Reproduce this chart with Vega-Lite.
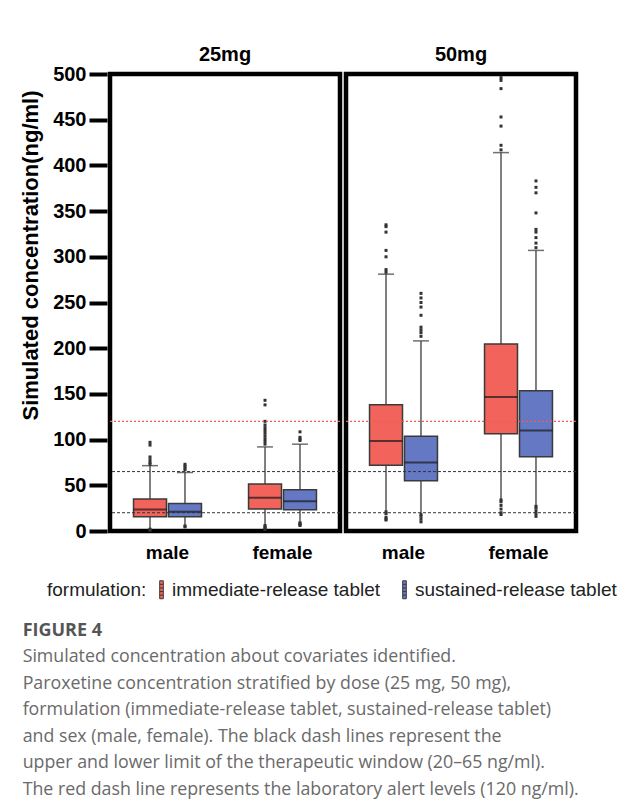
{
  "$schema": "https://vega.github.io/schema/vega-lite/v6.json",
  "background": "white",
  "padding": {"left": 19, "top": 45, "right": 5, "bottom": 5},
  "data": {"values": [
    {"kind": "box", "dose": "25mg", "sex": "male", "formulation": "immediate-release tablet", "lower": 3, "q1": 15.7, "median": 23.5, "q3": 35, "upper": 71.5},
    {"kind": "box", "dose": "25mg", "sex": "male", "formulation": "sustained-release tablet", "lower": 6.5, "q1": 15.7, "median": 21, "q3": 30, "upper": 64},
    {"kind": "box", "dose": "25mg", "sex": "female", "formulation": "immediate-release tablet", "lower": 7, "q1": 24, "median": 36.5, "q3": 51.4, "upper": 92},
    {"kind": "box", "dose": "25mg", "sex": "female", "formulation": "sustained-release tablet", "lower": 10, "q1": 23.3, "median": 32.5, "q3": 45, "upper": 95},
    {"kind": "box", "dose": "50mg", "sex": "male", "formulation": "immediate-release tablet", "lower": 22, "q1": 71.8, "median": 98.5, "q3": 138, "upper": 281},
    {"kind": "box", "dose": "50mg", "sex": "male", "formulation": "sustained-release tablet", "lower": 19, "q1": 55, "median": 75, "q3": 103.6, "upper": 208},
    {"kind": "box", "dose": "50mg", "sex": "female", "formulation": "immediate-release tablet", "lower": 35, "q1": 106.5, "median": 146.5, "q3": 204.6, "upper": 414},
    {"kind": "box", "dose": "50mg", "sex": "female", "formulation": "sustained-release tablet", "lower": 28.5, "q1": 81.3, "median": 110, "q3": 153.5, "upper": 307},

    {"kind": "out", "dose": "25mg", "sex": "male", "formulation": "immediate-release tablet", "value": 97},
    {"kind": "out", "dose": "25mg", "sex": "male", "formulation": "immediate-release tablet", "value": 94},
    {"kind": "out", "dose": "25mg", "sex": "male", "formulation": "immediate-release tablet", "value": 81},
    {"kind": "out", "dose": "25mg", "sex": "male", "formulation": "immediate-release tablet", "value": 78},
    {"kind": "out", "dose": "25mg", "sex": "male", "formulation": "immediate-release tablet", "value": 75},
    {"kind": "out", "dose": "25mg", "sex": "male", "formulation": "immediate-release tablet", "value": 73},
    {"kind": "out", "dose": "25mg", "sex": "male", "formulation": "immediate-release tablet", "value": 2},
    {"kind": "out", "dose": "25mg", "sex": "male", "formulation": "immediate-release tablet", "value": 1},
    {"kind": "out", "dose": "25mg", "sex": "male", "formulation": "sustained-release tablet", "value": 73},
    {"kind": "out", "dose": "25mg", "sex": "male", "formulation": "sustained-release tablet", "value": 71},
    {"kind": "out", "dose": "25mg", "sex": "male", "formulation": "sustained-release tablet", "value": 69},
    {"kind": "out", "dose": "25mg", "sex": "male", "formulation": "sustained-release tablet", "value": 67},
    {"kind": "out", "dose": "25mg", "sex": "male", "formulation": "sustained-release tablet", "value": 5.5},
    {"kind": "out", "dose": "25mg", "sex": "male", "formulation": "sustained-release tablet", "value": 4.5},
    {"kind": "out", "dose": "25mg", "sex": "female", "formulation": "immediate-release tablet", "value": 143},
    {"kind": "out", "dose": "25mg", "sex": "female", "formulation": "immediate-release tablet", "value": 138},
    {"kind": "out", "dose": "25mg", "sex": "female", "formulation": "immediate-release tablet", "value": 120},
    {"kind": "out", "dose": "25mg", "sex": "female", "formulation": "immediate-release tablet", "value": 116},
    {"kind": "out", "dose": "25mg", "sex": "female", "formulation": "immediate-release tablet", "value": 113},
    {"kind": "out", "dose": "25mg", "sex": "female", "formulation": "immediate-release tablet", "value": 110},
    {"kind": "out", "dose": "25mg", "sex": "female", "formulation": "immediate-release tablet", "value": 107},
    {"kind": "out", "dose": "25mg", "sex": "female", "formulation": "immediate-release tablet", "value": 104},
    {"kind": "out", "dose": "25mg", "sex": "female", "formulation": "immediate-release tablet", "value": 101},
    {"kind": "out", "dose": "25mg", "sex": "female", "formulation": "immediate-release tablet", "value": 98},
    {"kind": "out", "dose": "25mg", "sex": "female", "formulation": "immediate-release tablet", "value": 95},
    {"kind": "out", "dose": "25mg", "sex": "female", "formulation": "immediate-release tablet", "value": 6},
    {"kind": "out", "dose": "25mg", "sex": "female", "formulation": "immediate-release tablet", "value": 4.5},
    {"kind": "out", "dose": "25mg", "sex": "female", "formulation": "immediate-release tablet", "value": 3},
    {"kind": "out", "dose": "25mg", "sex": "female", "formulation": "immediate-release tablet", "value": 2},
    {"kind": "out", "dose": "25mg", "sex": "female", "formulation": "sustained-release tablet", "value": 108.5},
    {"kind": "out", "dose": "25mg", "sex": "female", "formulation": "sustained-release tablet", "value": 102.5},
    {"kind": "out", "dose": "25mg", "sex": "female", "formulation": "sustained-release tablet", "value": 100.5},
    {"kind": "out", "dose": "25mg", "sex": "female", "formulation": "sustained-release tablet", "value": 99},
    {"kind": "out", "dose": "25mg", "sex": "female", "formulation": "sustained-release tablet", "value": 9},
    {"kind": "out", "dose": "25mg", "sex": "female", "formulation": "sustained-release tablet", "value": 8},
    {"kind": "out", "dose": "25mg", "sex": "female", "formulation": "sustained-release tablet", "value": 7},
    {"kind": "out", "dose": "25mg", "sex": "female", "formulation": "sustained-release tablet", "value": 6},

    {"kind": "out", "dose": "50mg", "sex": "male", "formulation": "immediate-release tablet", "value": 335},
    {"kind": "out", "dose": "50mg", "sex": "male", "formulation": "immediate-release tablet", "value": 333},
    {"kind": "out", "dose": "50mg", "sex": "male", "formulation": "immediate-release tablet", "value": 327},
    {"kind": "out", "dose": "50mg", "sex": "male", "formulation": "immediate-release tablet", "value": 307},
    {"kind": "out", "dose": "50mg", "sex": "male", "formulation": "immediate-release tablet", "value": 300},
    {"kind": "out", "dose": "50mg", "sex": "male", "formulation": "immediate-release tablet", "value": 286},
    {"kind": "out", "dose": "50mg", "sex": "male", "formulation": "immediate-release tablet", "value": 283},
    {"kind": "out", "dose": "50mg", "sex": "male", "formulation": "immediate-release tablet", "value": 21},
    {"kind": "out", "dose": "50mg", "sex": "male", "formulation": "immediate-release tablet", "value": 19},
    {"kind": "out", "dose": "50mg", "sex": "male", "formulation": "immediate-release tablet", "value": 15},
    {"kind": "out", "dose": "50mg", "sex": "male", "formulation": "immediate-release tablet", "value": 13},
    {"kind": "out", "dose": "50mg", "sex": "male", "formulation": "immediate-release tablet", "value": 12},
    {"kind": "out", "dose": "50mg", "sex": "male", "formulation": "sustained-release tablet", "value": 260},
    {"kind": "out", "dose": "50mg", "sex": "male", "formulation": "sustained-release tablet", "value": 255},
    {"kind": "out", "dose": "50mg", "sex": "male", "formulation": "sustained-release tablet", "value": 250},
    {"kind": "out", "dose": "50mg", "sex": "male", "formulation": "sustained-release tablet", "value": 245},
    {"kind": "out", "dose": "50mg", "sex": "male", "formulation": "sustained-release tablet", "value": 236},
    {"kind": "out", "dose": "50mg", "sex": "male", "formulation": "sustained-release tablet", "value": 223},
    {"kind": "out", "dose": "50mg", "sex": "male", "formulation": "sustained-release tablet", "value": 220},
    {"kind": "out", "dose": "50mg", "sex": "male", "formulation": "sustained-release tablet", "value": 217},
    {"kind": "out", "dose": "50mg", "sex": "male", "formulation": "sustained-release tablet", "value": 213},
    {"kind": "out", "dose": "50mg", "sex": "male", "formulation": "sustained-release tablet", "value": 18},
    {"kind": "out", "dose": "50mg", "sex": "male", "formulation": "sustained-release tablet", "value": 16},
    {"kind": "out", "dose": "50mg", "sex": "male", "formulation": "sustained-release tablet", "value": 13},
    {"kind": "out", "dose": "50mg", "sex": "male", "formulation": "sustained-release tablet", "value": 10},
    {"kind": "out", "dose": "50mg", "sex": "female", "formulation": "immediate-release tablet", "value": 496},
    {"kind": "out", "dose": "50mg", "sex": "female", "formulation": "immediate-release tablet", "value": 493},
    {"kind": "out", "dose": "50mg", "sex": "female", "formulation": "immediate-release tablet", "value": 484},
    {"kind": "out", "dose": "50mg", "sex": "female", "formulation": "immediate-release tablet", "value": 453},
    {"kind": "out", "dose": "50mg", "sex": "female", "formulation": "immediate-release tablet", "value": 443},
    {"kind": "out", "dose": "50mg", "sex": "female", "formulation": "immediate-release tablet", "value": 422},
    {"kind": "out", "dose": "50mg", "sex": "female", "formulation": "immediate-release tablet", "value": 417},
    {"kind": "out", "dose": "50mg", "sex": "female", "formulation": "immediate-release tablet", "value": 34},
    {"kind": "out", "dose": "50mg", "sex": "female", "formulation": "immediate-release tablet", "value": 32},
    {"kind": "out", "dose": "50mg", "sex": "female", "formulation": "immediate-release tablet", "value": 28},
    {"kind": "out", "dose": "50mg", "sex": "female", "formulation": "immediate-release tablet", "value": 24},
    {"kind": "out", "dose": "50mg", "sex": "female", "formulation": "immediate-release tablet", "value": 20},
    {"kind": "out", "dose": "50mg", "sex": "female", "formulation": "immediate-release tablet", "value": 18},
    {"kind": "out", "dose": "50mg", "sex": "female", "formulation": "sustained-release tablet", "value": 383},
    {"kind": "out", "dose": "50mg", "sex": "female", "formulation": "sustained-release tablet", "value": 376},
    {"kind": "out", "dose": "50mg", "sex": "female", "formulation": "sustained-release tablet", "value": 370},
    {"kind": "out", "dose": "50mg", "sex": "female", "formulation": "sustained-release tablet", "value": 348},
    {"kind": "out", "dose": "50mg", "sex": "female", "formulation": "sustained-release tablet", "value": 330},
    {"kind": "out", "dose": "50mg", "sex": "female", "formulation": "sustained-release tablet", "value": 327},
    {"kind": "out", "dose": "50mg", "sex": "female", "formulation": "sustained-release tablet", "value": 321},
    {"kind": "out", "dose": "50mg", "sex": "female", "formulation": "sustained-release tablet", "value": 315},
    {"kind": "out", "dose": "50mg", "sex": "female", "formulation": "sustained-release tablet", "value": 310},
    {"kind": "out", "dose": "50mg", "sex": "female", "formulation": "sustained-release tablet", "value": 27},
    {"kind": "out", "dose": "50mg", "sex": "female", "formulation": "sustained-release tablet", "value": 25},
    {"kind": "out", "dose": "50mg", "sex": "female", "formulation": "sustained-release tablet", "value": 22},
    {"kind": "out", "dose": "50mg", "sex": "female", "formulation": "sustained-release tablet", "value": 19},
    {"kind": "out", "dose": "50mg", "sex": "female", "formulation": "sustained-release tablet", "value": 16},

    {"kind": "ref", "dose": "25mg", "line": "alert", "value": 120},
    {"kind": "ref", "dose": "25mg", "line": "limit", "value": 65},
    {"kind": "ref", "dose": "25mg", "line": "limit", "value": 20},
    {"kind": "ref", "dose": "50mg", "line": "alert", "value": 120},
    {"kind": "ref", "dose": "50mg", "line": "limit", "value": 65},
    {"kind": "ref", "dose": "50mg", "line": "limit", "value": 20}
  ]},
  "facet": {"column": {"field": "dose", "type": "nominal", "sort": ["25mg", "50mg"],
    "header": {"title": null, "labelFontSize": 20, "labelFontWeight": "bold", "labelColor": "black", "labelPadding": 6, "labelFont": "Liberation Sans"}}},
  "spacing": 0,
  "spec": {
    "width": 230,
    "height": 457,
    "encoding": {
      "x": {"field": "sex", "type": "nominal", "sort": ["male", "female"], "title": null, "scale": {"paddingInner": 0, "paddingOuter": 0}},
      "xOffset": {"field": "formulation", "type": "nominal", "sort": ["immediate-release tablet", "sustained-release tablet"], "scale": {"paddingInner": 0.057, "paddingOuter": 0.673}}
    },
    "layer": [
      {
        "transform": [{"filter": "datum.kind === 'box'"}],
        "mark": {"type": "rule", "color": "#555555", "strokeWidth": 1.5},
        "encoding": {
          "y": {"field": "lower", "type": "quantitative", "title": "Simulated concentration(ng/ml)", "scale": {"domain": [0, 500], "nice": false}},
          "y2": {"field": "upper"}
        }
      },
      {
        "transform": [{"filter": "datum.kind === 'box'"}],
        "mark": {"type": "tick", "orient": "horizontal", "size": 16, "thickness": 1.5, "color": "#333333"},
        "encoding": {"y": {"field": "upper", "type": "quantitative", "title": "Simulated concentration(ng/ml)"}}
      },
      {
        "transform": [{"filter": "datum.kind === 'box'"}],
        "mark": {"type": "bar", "stroke": "#3a3a3a", "strokeWidth": 1.5},
        "encoding": {
          "y": {"field": "q1", "type": "quantitative", "title": "Simulated concentration(ng/ml)"},
          "y2": {"field": "q3"},
          "color": {"field": "formulation", "type": "nominal",
            "scale": {"domain": ["immediate-release tablet", "sustained-release tablet"], "range": ["#f1635b", "#6478c3"]},
            "legend": {
              "title": "formulation:", "orient": "none", "legendX": -63, "legendY": 506, "direction": "horizontal", "titleOrient": "left", "padding": 0,
              "titleFontSize": 19, "titleFontWeight": "normal", "titleColor": "#222222", "titleFont": "Liberation Sans",
              "labelFontSize": 19, "labelColor": "#222222", "labelFont": "Liberation Sans", "labelLimit": 0,
              "symbolType": "M-0.36,-1.8H0.36V1.8H-0.36Z M-0.36,-1.08H0.36 M-0.36,-0.36H0.36 M-0.36,0.36H0.36 M-0.36,1.08H0.36",
              "symbolSize": 100, "symbolStrokeWidth": 1, "labelOffset": 1, "columnPadding": 14, "titlePadding": 5,
              "encode": {"symbols": {"update": {"stroke": {"scale": "color", "field": "value"}, "fillOpacity": {"value": 0.35}, "strokeWidth": {"value": 1.2}}}}
            }
          }
        }
      },
      {
        "transform": [{"filter": "datum.kind === 'box'"}],
        "mark": {"type": "tick", "orient": "horizontal", "size": 33, "thickness": 2, "color": "#1a1a1a"},
        "encoding": {"y": {"field": "median", "type": "quantitative", "title": "Simulated concentration(ng/ml)"}}
      },
      {
        "transform": [{"filter": "datum.kind === 'out'"}],
        "mark": {"type": "point", "shape": "square", "filled": true, "size": 9, "color": "#333333", "opacity": 1},
        "encoding": {"y": {"field": "value", "type": "quantitative", "title": "Simulated concentration(ng/ml)"}}
      },
      {
        "transform": [{"filter": "datum.kind === 'ref' && datum.line === 'limit'"}],
        "mark": {"type": "rule", "strokeDash": [3, 2], "strokeWidth": 1, "color": "#333333"},
        "encoding": {"y": {"field": "value", "type": "quantitative", "title": "Simulated concentration(ng/ml)"}, "x": null, "xOffset": null}
      },
      {
        "transform": [{"filter": "datum.kind === 'ref' && datum.line === 'alert'"}],
        "mark": {"type": "rule", "strokeDash": [2, 2], "strokeWidth": 1.2, "color": "#f25a5a"},
        "encoding": {"y": {"field": "value", "type": "quantitative", "title": "Simulated concentration(ng/ml)"}, "x": null, "xOffset": null}
      }
    ]
  },
  "title": {
    "text": "FIGURE 4",
    "subtitle": [
      "Simulated concentration about covariates identified.",
      "Paroxetine concentration stratified by dose (25 mg, 50 mg),",
      "formulation (immediate-release tablet, sustained-release tablet)",
      "and sex (male, female). The black dash lines represent the",
      "upper and lower limit of the therapeutic window (20–65 ng/ml).",
      "The red dash line represents the laboratory alert levels (120 ng/ml)."
    ],
    "orient": "bottom", "anchor": "start", "frame": "bounds", "dx": 3,
    "font": "Open Sans", "fontSize": 18, "fontWeight": "bold", "color": "#555555",
    "subtitleFont": "Open Sans", "subtitleFontSize": 17.8, "subtitleColor": "#6a6a6a", "subtitleLineHeight": 26.6, "subtitlePadding": 8,
    "offset": 21
  },
  "config": {
    "font": "Liberation Sans",
    "view": {"stroke": "black", "strokeWidth": 4.5},
    "axisX": {"domain": false, "ticks": false, "labelAngle": 0, "labelFontSize": 19, "labelFontWeight": "bold", "labelColor": "black", "labelPadding": 9, "grid": false},
    "axisY": {"domain": false, "grid": false, "values": [0, 50, 100, 150, 200, 250, 300, 350, 400, 450, 500], "tickSize": 18, "tickWidth": 4, "tickColor": "black", "labelFontSize": 20, "labelFontWeight": "bold", "labelColor": "black", "labelPadding": 3, "titleFontSize": 22, "titleFontWeight": "bold", "titleColor": "black", "titlePadding": 10, "titleY": 181}
  }
}
